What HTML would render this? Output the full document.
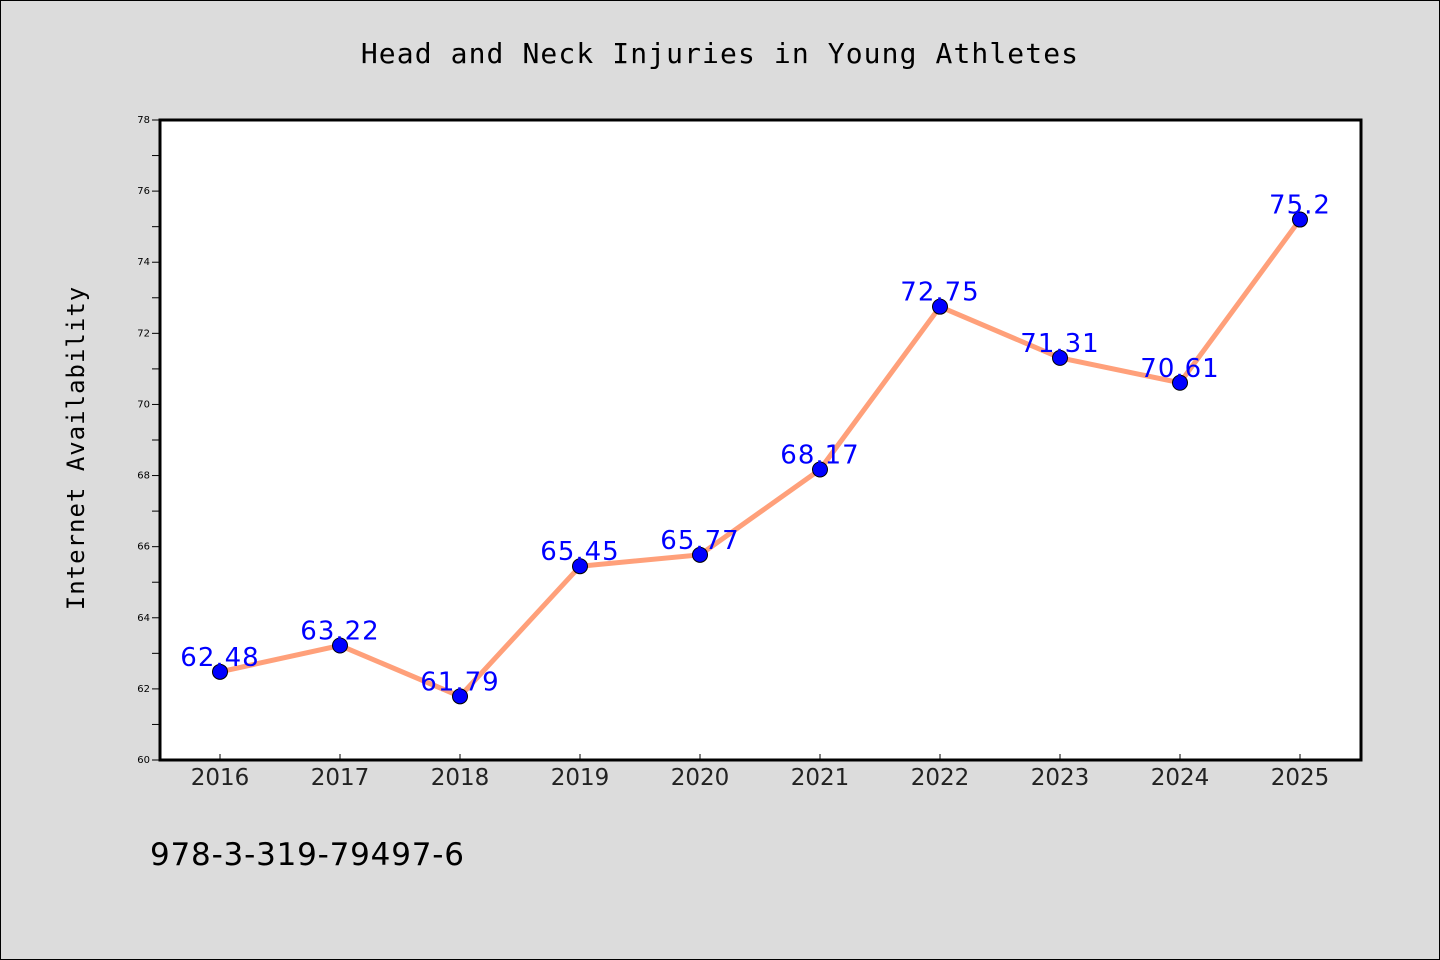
<!DOCTYPE html>
<html><head><meta charset="utf-8"><style>
body{margin:0;background:#dcdcdc;}
svg{display:block;font-family:"DejaVu Sans","Liberation Sans",sans-serif;}
</style></head><body>
<svg id="chart" width="1440" height="960">
<rect x="0.5" y="0.5" width="1439" height="959" fill="#dcdcdc" stroke="#000"/>
<text x="720" y="63" text-anchor="middle" font-size="28" letter-spacing="1.1" font-family="'DejaVu Sans Mono','Liberation Mono',monospace">Head and Neck Injuries in Young Athletes</text>
<rect x="160" y="120" width="1201" height="640" fill="#fff"/>
<g id="yaxis"></g>
<g id="xaxis"></g>
<g id="series"></g>
<rect x="160" y="120" width="1201" height="640" fill="none" stroke="#000" stroke-width="3"/>
<text x="84" y="448" text-anchor="middle" font-size="24" font-family="'DejaVu Sans Mono','Liberation Mono',monospace" transform="rotate(-90 84 448)" letter-spacing="1">Internet Availability</text>
<text x="150" y="865" font-size="31" letter-spacing="0.8">978-3-319-79497-6</text>
</svg>
<script>
const categories=["2016","2017","2018","2019","2020","2021","2022","2023","2024","2025"];
const values=[62.48,63.22,61.79,65.45,65.77,68.17,72.75,71.31,70.61,75.2];
const valueLabels=["62.48","63.22","61.79","65.45","65.77","68.17","72.75","71.31","70.61","75.2"];
const yTicks=[60,62,64,66,68,70,72,74,76,78];
const NS="http://www.w3.org/2000/svg";
const x=i=>220+i*120;
const y=v=>760-(v-60)*(640/18);
function mk(tag,attrs,parent){const e=document.createElementNS(NS,tag);for(const k in attrs)e.setAttribute(k,attrs[k]);parent.appendChild(e);return e;}
const ya=document.getElementById('yaxis'),xa=document.getElementById('xaxis'),sg=document.getElementById('series');
yTicks.forEach(t=>{
  const l=mk('line',{x1:152,x2:160,y1:y(t),y2:y(t),stroke:'#000','stroke-width':1},ya);
  
  
  const tx=mk('text',{x:150,y:y(t)+3,'text-anchor':'end','font-size':10},ya);
  tx.textContent=t;
  
  
  if(t<78){const m=mk('line',{x1:152,x2:160,y1:y(t+1),y2:y(t+1),stroke:'#000','stroke-width':1},ya);
  
  }
});
categories.forEach((c,i)=>{
  const l=mk('line',{x1:x(i),x2:x(i),y1:754,y2:760,stroke:'#000','stroke-width':1},xa);
  
  
  const tx=mk('text',{x:x(i),y:785,'text-anchor':'middle','font-size':23,fill:'#222'},xa);
  tx.textContent=c;
  
  
});
const pl=mk('polyline',{points:values.map((v,i)=>x(i)+','+y(v)).join(' '),fill:'none',stroke:'#ffa07a','stroke-width':5},sg);


values.forEach((v,i)=>{
  const c=mk('circle',{cx:x(i),cy:y(v),r:7.5,fill:'#0000ff',stroke:'#000','stroke-width':1},sg);
  
  
  const t=mk('text',{x:x(i),y:y(v)-6,'text-anchor':'middle','font-size':26,'letter-spacing':1,fill:'#0000ff'},sg);
  t.textContent=valueLabels[i];
  
  
});
</script>
</body></html>
